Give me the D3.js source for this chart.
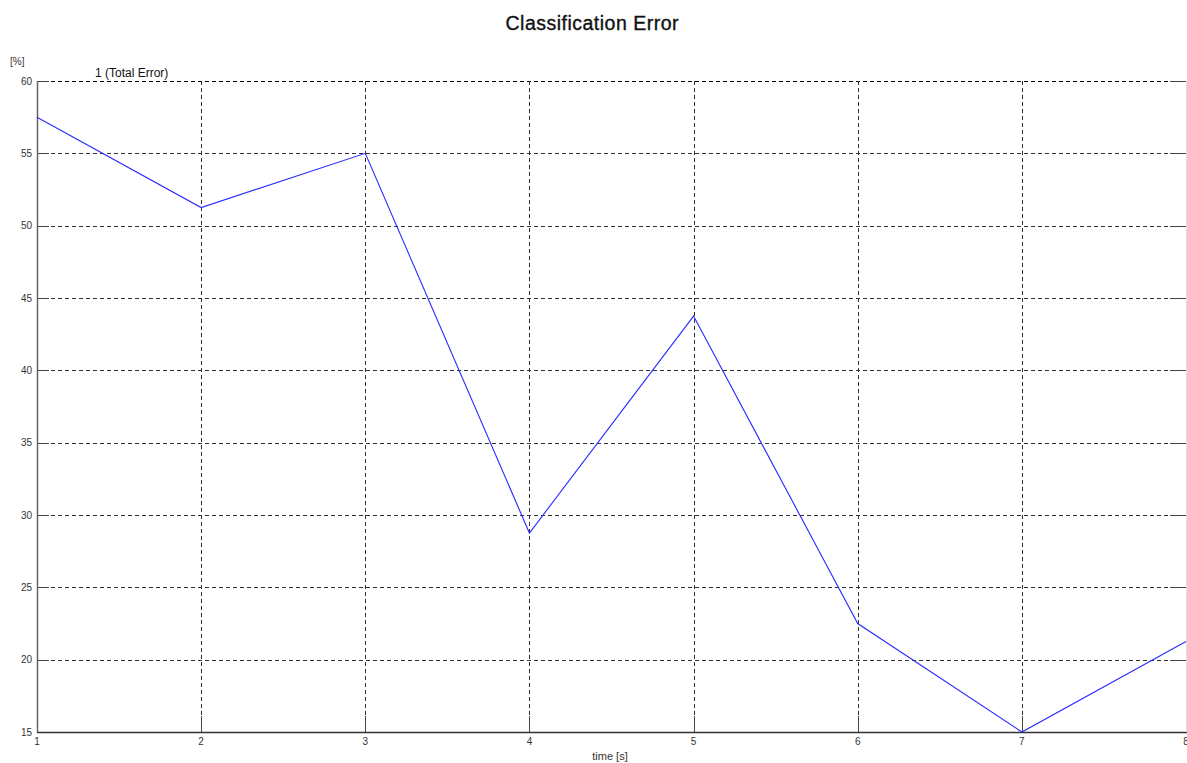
<!DOCTYPE html>
<html>
<head>
<meta charset="utf-8">
<script src="https://cdn.jsdelivr.net/npm/d3@7"></script>
<style>
  html, body { margin: 0; padding: 0; background: #fff; }
  svg { display: block; font-family: Arial, "Liberation Sans", sans-serif; }
</style>
</head>
<body>
<svg id="chart" width="1187" height="763"></svg>
<script>
// Classification error over time
const timeSteps = [1, 2, 3, 4, 5, 6, 7, 8];
const totalError = [57.5, 51.25, 55, 28.75, 43.75, 22.5, 15, 21.25];
const yTicks = [15, 20, 25, 30, 35, 40, 45, 50, 55, 60];
const xTicks = [1, 2, 3, 4, 5, 6, 7, 8];
const seriesName = "1 (Total Error)";

const svg = d3.select("#chart");
const plotLeft = 37, plotRight = 1186, plotTop = 81, plotBottom = 732;

const x = d3.scaleLinear().domain([1, 8]).range([plotLeft, plotRight]);
const y = d3.scaleLinear().domain([15, 60]).range([plotBottom, plotTop]);

// Title
svg.append("text")
  .attr("x", 592).attr("y", 30)
  .attr("text-anchor", "middle")
  .attr("font-size", 19.5)
  .attr("fill", "#111")
  .attr("stroke", "#111").attr("stroke-width", 0.35)
  .attr("textLength", 173)
  .text("Classification Error");

// Dashed grid
const grid = svg.append("g").attr("stroke", "#333").attr("stroke-width", 1)
  .attr("stroke-dasharray", "4,3").attr("shape-rendering", "crispEdges");
grid.selectAll("line.h").data(yTicks.filter(d => d > 15)).join("line")
  .attr("x1", plotLeft).attr("x2", plotRight)
  .attr("y1", d => Math.round(y(d)) + 0.5).attr("y2", d => Math.round(y(d)) + 0.5)
  .attr("stroke", d => d === 60 ? "#000" : "#333")
  .attr("stroke-width", d => d === 60 ? 1.5 : 1);
grid.selectAll("line.v").data(xTicks.filter(d => d > 1 && d < 8)).join("line")
  .attr("y1", plotTop).attr("y2", plotBottom)
  .attr("x1", d => Math.round(x(d)) + 0.5).attr("x2", d => Math.round(x(d)) + 0.5);

// Inward tick marks
const ticks = svg.append("g").attr("stroke", "#444").attr("stroke-width", 1.2)
  .attr("shape-rendering", "crispEdges");
ticks.selectAll("line.l").data(yTicks).join("line")
  .attr("x1", plotLeft).attr("x2", plotLeft + 12)
  .attr("y1", d => Math.round(y(d)) + 0.5).attr("y2", d => Math.round(y(d)) + 0.5);
ticks.selectAll("line.r").data(yTicks).join("line")
  .attr("x1", plotRight - 16).attr("x2", plotRight)
  .attr("y1", d => Math.round(y(d)) + 0.5).attr("y2", d => Math.round(y(d)) + 0.5);
ticks.selectAll("line.b").data(xTicks).join("line")
  .attr("y1", plotBottom - 16).attr("y2", plotBottom)
  .attr("x1", d => Math.round(x(d)) + 0.5).attr("x2", d => Math.round(x(d)) + 0.5);

// Axis lines
svg.append("line").attr("x1", plotLeft + 0.5).attr("x2", plotLeft + 0.5)
  .attr("y1", plotTop).attr("y2", plotBottom)
  .attr("stroke", "#666").attr("stroke-width", 1.5);
svg.append("line").attr("x1", plotLeft).attr("x2", plotRight + 1)
  .attr("y1", plotBottom + 0.5).attr("y2", plotBottom + 0.5)
  .attr("stroke", "#333").attr("stroke-width", 1.5);
svg.append("line").attr("x1", plotRight + 0.5).attr("x2", plotRight + 0.5)
  .attr("y1", plotTop).attr("y2", plotBottom)
  .attr("stroke", "#ddd").attr("stroke-width", 1);

// Tick labels
svg.append("g").selectAll("text").data(yTicks).join("text")
  .attr("x", plotLeft - 5).attr("y", d => y(d) + 3.5)
  .attr("text-anchor", "end").attr("font-size", 10).attr("fill", "#333")
  .text(d => d);
svg.append("g").selectAll("text").data(xTicks).join("text")
  .attr("x", d => x(d)).attr("y", plotBottom + 13)
  .attr("text-anchor", "middle").attr("font-size", 10).attr("fill", "#333")
  .text(d => d);

// Axis titles
svg.append("text").attr("x", 10).attr("y", 65)
  .attr("font-size", 10).attr("fill", "#333").text("[%]");
svg.append("text").attr("x", 610).attr("y", 760)
  .attr("text-anchor", "middle").attr("font-size", 11).attr("fill", "#333")
  .text("time [s]");

// Series label
svg.append("text").attr("x", 95).attr("y", 77)
  .attr("font-size", 12).attr("fill", "#111").text(seriesName);

// Error line
const line = d3.line().x((d, i) => x(timeSteps[i])).y(d => y(d));
svg.append("path").datum(totalError)
  .attr("d", line)
  .attr("fill", "none").attr("stroke", "#2b2bff").attr("stroke-width", 1.1);
</script>
</body>
</html>
